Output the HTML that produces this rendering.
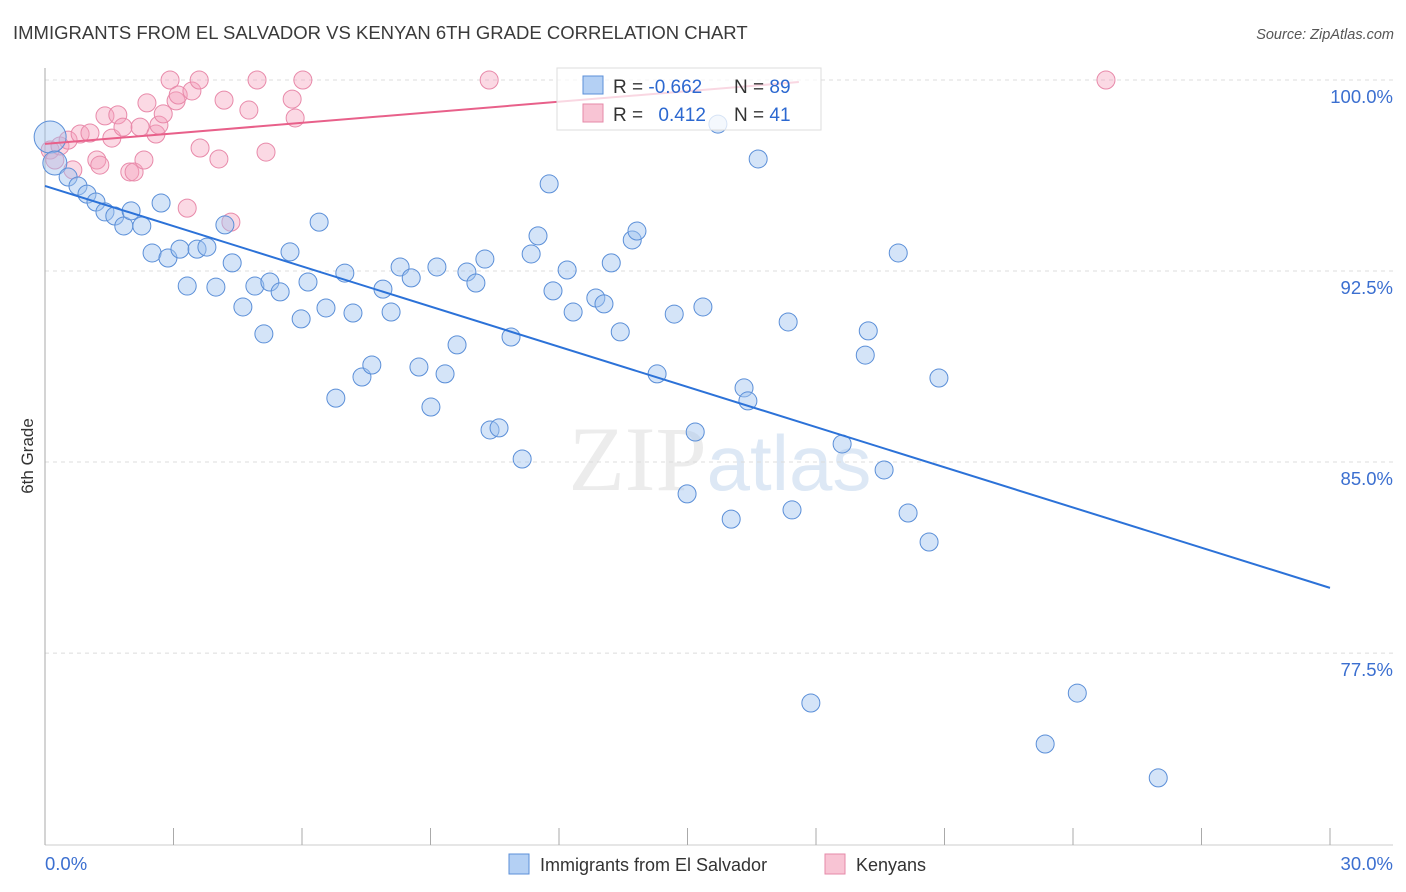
<!DOCTYPE html>
<html><head><meta charset="utf-8"><style>
body{margin:0;background:#fff;font-family:"Liberation Sans",sans-serif;}
svg{display:block}
</style></head><body>
<svg id="chart" width="1406" height="892" xmlns="http://www.w3.org/2000/svg">
<text x="13" y="39" font-size="18.5" fill="#3a3a3a">IMMIGRANTS FROM EL SALVADOR VS KENYAN 6TH GRADE CORRELATION CHART</text>
<text x="1394" y="39" font-size="14.5" fill="#555" text-anchor="end" font-style="italic">Source: ZipAtlas.com</text>
<text x="720" y="490" font-size="92" fill="#ececec" text-anchor="middle" font-family="Liberation Serif, serif">ZIP<tspan fill="#dde8f5" font-family="Liberation Sans, sans-serif" font-size="78">atlas</tspan></text>
<g id="grid"></g>
<g id="axes"></g>
<g id="pts"></g>
<g id="trends"></g>
<text transform="translate(33,456) rotate(-90)" font-size="17" fill="#333" text-anchor="middle">6th Grade</text>
<g>
<rect x="557" y="68" width="264" height="62" fill="rgba(255,255,255,0.75)" stroke="#ddd"/>
<rect x="583" y="76" width="20" height="18" fill="#b4d0f4" stroke="#5b8fd8"/>
<rect x="583" y="104" width="20" height="18" fill="#f8c4d4" stroke="#e68aa8"/>
<text x="613" y="93" font-size="19" fill="#333">R = <tspan fill="#2c68d0">-0.662</tspan></text>
<text x="734" y="93" font-size="19" fill="#333">N = <tspan fill="#2c68d0">89</tspan></text>
<text x="613" y="121" font-size="19" fill="#333">R = <tspan fill="#2c68d0" dx="10">0.412</tspan></text>
<text x="734" y="121" font-size="19" fill="#333">N = <tspan fill="#2c68d0">41</tspan></text>
</g>
<g>
<rect x="509" y="854" width="20" height="20" fill="#b4d0f4" stroke="#5b8fd8"/>
<text x="540" y="871" font-size="18" fill="#333">Immigrants from El Salvador</text>
<rect x="825" y="854" width="20" height="20" fill="#f8c4d4" stroke="#e68aa8"/>
<text x="856" y="871" font-size="18" fill="#333">Kenyans</text>
</g>
</svg>
<script>
const blueX=[0.12,0.23,0.54,0.77,0.98,1.19,1.40,1.63,1.84,2.01,2.26,2.71,2.50,2.87,3.15,3.32,3.55,3.78,3.99,4.20,4.37,4.62,4.90,5.11,5.25,5.49,5.72,5.98,6.14,6.40,6.56,6.79,7.00,7.19,7.40,7.63,7.89,8.08,8.29,8.55,8.73,9.01,9.15,9.34,9.62,9.85,10.06,10.27,10.39,10.60,10.88,11.14,11.35,11.51,11.77,11.86,12.19,12.33,12.86,13.05,13.22,13.43,13.71,13.82,14.29,14.69,14.99,15.18,15.36,15.71,16.02,16.32,16.41,16.65,17.35,17.44,17.88,18.61,19.15,19.22,19.59,19.92,20.15,20.64,20.87,23.35,24.10,25.99];
const blueY=[97.76,96.74,96.19,95.84,95.52,95.21,94.82,94.66,94.27,94.86,94.27,95.17,93.21,93.01,93.36,91.91,93.36,93.44,91.87,94.31,92.82,91.09,91.91,90.03,92.07,91.68,93.25,90.62,92.07,94.42,91.05,87.51,92.42,90.85,88.34,88.81,91.79,90.89,92.66,92.23,88.73,87.16,92.66,88.46,89.60,92.46,92.03,92.97,86.26,86.34,89.91,85.12,93.17,93.88,95.92,91.72,92.54,90.89,91.44,91.21,92.82,90.11,93.72,94.07,88.46,90.81,83.75,86.18,91.09,98.27,82.76,87.91,87.40,96.90,90.50,83.12,75.54,85.71,89.20,90.15,84.69,93.21,83.00,81.86,88.30,73.93,75.93,72.60];
const pinkX=[0.12,0.23,0.35,0.54,0.65,0.82,1.05,1.21,1.28,1.40,1.56,1.70,1.82,1.98,2.08,2.22,2.31,2.38,2.59,2.66,2.76,2.92,3.06,3.11,3.32,3.43,3.60,3.62,4.06,4.18,4.34,4.76,4.95,5.16,5.77,5.84,6.02,10.37,24.77];
const pinkY=[97.25,96.86,97.41,97.64,96.47,97.88,97.92,96.86,96.66,98.59,97.72,98.63,98.15,96.39,96.39,98.15,96.86,99.10,97.88,98.23,98.67,100,99.18,99.41,94.97,99.57,100,97.33,96.90,99.21,94.42,98.82,100,97.17,99.25,98.51,100,100,100];
const blueTrend=[0,95.84,30,80.06];
const pinkTrend=[0,97.49,17.6,99.92];
const yTicks=[100,92.5,85,77.5];
const yTickLabels=["100.0%","92.5%","85.0%","77.5%"];
const xTickCount=10;
const xLabels=["0.0%","30.0%"];

const NS="http://www.w3.org/2000/svg";
const sx=v=>45+v/30*1285;
const sy=v=>80+(100-v)*25.47;
function mk(tag,attrs,parent){const e=document.createElementNS(NS,tag);for(const k in attrs)e.setAttribute(k,attrs[k]);parent.appendChild(e);return e;}
const grid=document.getElementById('grid'),axes=document.getElementById('axes'),pts=document.getElementById('pts'),tr=document.getElementById('trends');
yTicks.forEach((t,i)=>{
  const l=mk('line',{x1:45,x2:1393,y1:sy(t),y2:sy(t),stroke:'#dcdcdc','stroke-dasharray':'4,4'},grid);
  
  
  const tx=mk('text',{x:1393,y:sy(t)+23,'font-size':18.5,fill:'#3b6fd0','text-anchor':'end'},grid);
  tx.textContent=yTickLabels[i];
  
  
});
mk('line',{x1:45,x2:45,y1:68,y2:845,stroke:'#aaa'},axes);
mk('line',{x1:45,x2:1393,y1:845,y2:845,stroke:'#ccc'},axes);
for(let i=0;i<=xTickCount;i++){
  const x=sx(i*30/xTickCount);
  const t=mk('line',{x1:x,x2:x,y1:828,y2:845,stroke:'#aaa'},axes);
  
  
}
const xl0=mk('text',{x:45,y:870,'font-size':18.5,fill:'#3b6fd0'},axes);xl0.textContent=xLabels[0];


const xl1=mk('text',{x:1393,y:870,'font-size':18.5,fill:'#3b6fd0','text-anchor':'end'},axes);xl1.textContent=xLabels[1];



pinkX.forEach((x,i)=>{
  const c=mk('circle',{cx:sx(x),cy:sy(pinkY[i]),r:9,fill:'rgba(244,160,188,0.4)',stroke:'#e88aaa','stroke-width':1},pts);
  
  
});
blueX.forEach((x,i)=>{
  const r=i===0?16:(i===1?12:9);
  const c=mk('circle',{cx:sx(x),cy:sy(blueY[i]),r:r,fill:'rgba(160,196,240,0.45)',stroke:'#5b8fd8','stroke-width':1},pts);
  
  
});
const bl=mk('line',{x1:sx(blueTrend[0]),y1:sy(blueTrend[1]),x2:sx(blueTrend[2]),y2:sy(blueTrend[3]),stroke:'#2c72d8','stroke-width':2},tr);


const pl=mk('line',{x1:sx(pinkTrend[0]),y1:sy(pinkTrend[1]),x2:sx(pinkTrend[2]),y2:sy(pinkTrend[3]),stroke:'#e8608a','stroke-width':2},tr);


</script>
</body></html>
